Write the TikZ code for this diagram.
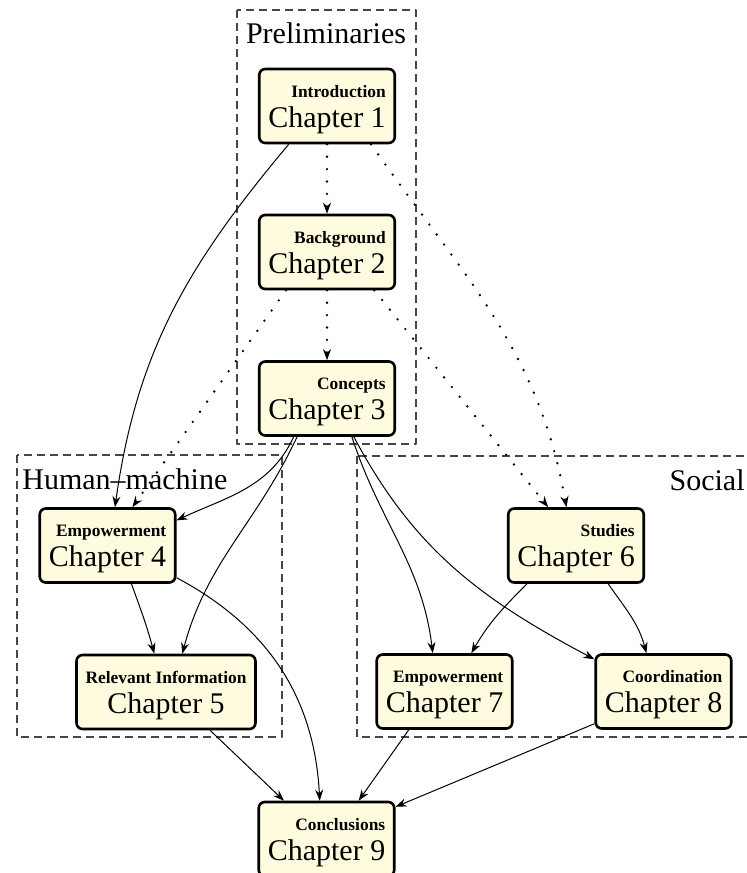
\documentclass[tikz,border=0pt]{standalone}
\usepackage{fontspec}
\setmainfont{Liberation Serif}
\usetikzlibrary{arrows.meta}
\definecolor{chapfill}{RGB}{255,251,222}
\definecolor{groupline}{RGB}{70,70,70}
\tikzset{
	chapter/.style={draw, line width=1.3pt, rounded corners=3pt, fill=chapfill, inner xsep=4.5pt, inner ysep=3.5pt, font=\fontsize{15}{15}\selectfont},
	group/.style={draw=groupline, line width=0.6pt, dash pattern=on 4pt off 2.5pt},
	grouplabel/.style={font=\fontsize{15}{15}\selectfont, inner sep=0pt},
	link/.style={->, line width=0.5pt},
	weak/.style={->, line width=1.3pt, dash pattern=on 0pt off 6.2pt, line cap=round},
}
\newcommand{\chaptext}[2]{\begin{tabular}{@{}r@{}}{\fontsize{8.7}{9}\selectfont\bfseries #1}\\\multicolumn{1}{@{}c@{}}{Chapter #2}\end{tabular}}
\begin{document}
\begin{tikzpicture}[x=0.5pt, y=0.5pt, line join=round, >={Stealth[length=5.5pt,width=4pt]}]
		\useasboundingbox (0,0) rectangle (747,-873);
		% groups
		\draw[group] (237,-10) rectangle (416,-444);
		\draw[group] (17,-455) rectangle (282,-737);
		\draw[group] (357,-456) rectangle (770,-737);
		\node[grouplabel, anchor=base] (prelim) at (326,-43) {Preliminaries};
		\node[grouplabel, anchor=base west] (human) at (22,-489) {Human--machine};
		\node[grouplabel, anchor=base east] (social) at (745,-490) {Social};
		% chapters
		\node[chapter] (ch1) at (327,-106) {\chaptext{Introduction}{1}};
		\node[chapter] (ch2) at (327,-252) {\chaptext{Background}{2}};
		\node[chapter] (ch3) at (327,-398.5) {\chaptext{Concepts}{3}};
		\node[chapter] (ch4) at (107.5,-545.5) {\chaptext{Empowerment}{4}};
		\node[chapter] (ch5) at (166,-692) {\chaptext{Relevant Information}{5}};
		\node[chapter] (ch6) at (576,-545.5) {\chaptext{Studies}{6}};
		\node[chapter] (ch7) at (444.5,-691.5) {\chaptext{Empowerment}{7}};
		\node[chapter] (ch8) at (663.5,-691.5) {\chaptext{Coordination}{8}};
		\node[chapter] (ch9) at (326.5,-839) {\chaptext{Conclusions}{9}};
		% dependencies
		\draw[weak] (ch1) -- (ch2);
		\draw[weak] (ch2) -- (ch3);
		\draw[weak] (ch1.-41) to[out=-55, in=100] (ch6.104);
		\draw[weak] (ch2.-137) -- (ch4.57);
		\draw[weak] (ch2.-39) -- (ch6.126);
		\draw[link] (ch1.-135) to[out=-130, in=82] (ch4.79);
		\draw[link] (ch3.-131) to[out=-115, in=25] (ch4.20);
		\draw[link] (ch3.-128) to[out=-115, in=75] (ch5.67);
		\draw[link] (ch3.-57) to[out=-72, in=97] (ch7.107);
		\draw[link] (ch3.-55) to[out=-62, in=152] (ch8.155);
		\draw[link] (ch4.-58) to[out=-70, in=105] (ch5.107);
		\draw[link] (ch4.-25) to[out=-28, in=93] (ch9.100);
		\draw[link] (ch5.-41) -- (ch9.138);
		\draw[link] (ch6.-142) to[out=-135, in=60] (ch7.55);
		\draw[link] (ch6.-50) to[out=-55, in=105] (ch8.114);
		\draw[link] (ch7.-133) -- (ch9.50);
		\draw[link] (ch8.-155) -- (ch9.25);
\end{tikzpicture}
\end{document}
